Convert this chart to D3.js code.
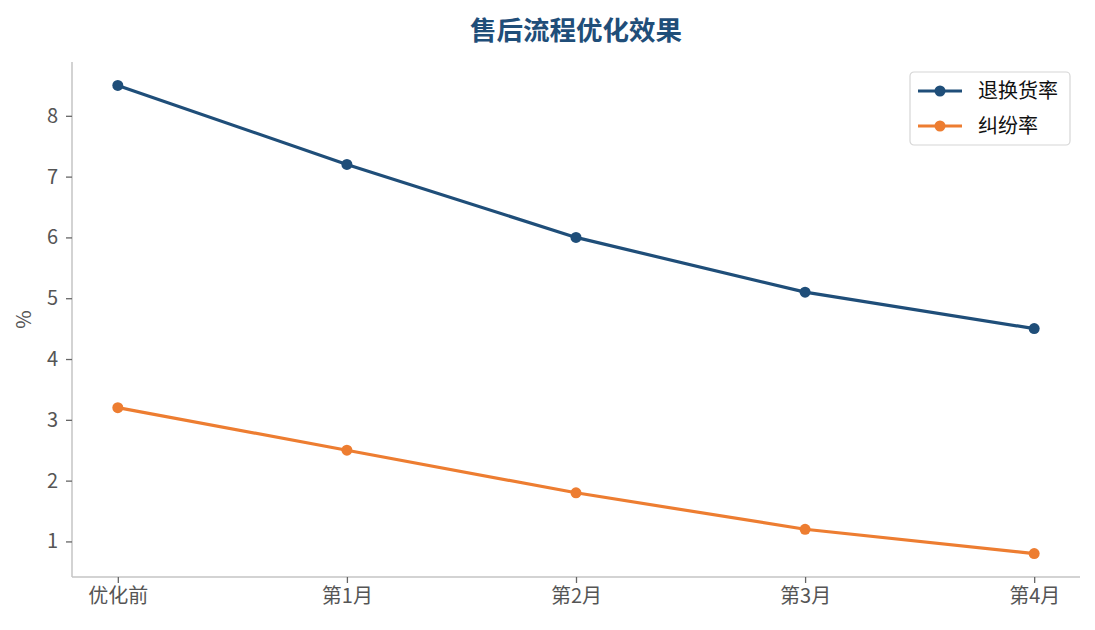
<!DOCTYPE html>
<html>
<head>
<meta charset="utf-8">
<script src="https://cdn.jsdelivr.net/npm/d3@7"></script>
<style>
  body { margin: 0; background: #fff; }
  svg { font-family: "Noto Sans CJK SC", "Noto Sans", sans-serif; }
</style>
</head>
<body>
<svg id="chart" width="1095" height="630"></svg>
<script>
const categories = ["优化前", "第1月", "第2月", "第3月", "第4月"];
const returnRate = [8.5, 7.2, 6.0, 5.1, 4.5];
const disputeRate = [3.2, 2.5, 1.8, 1.2, 0.8];
const yTicks = [1, 2, 3, 4, 5, 6, 7, 8];
const seriesNames = ["退换货率", "纠纷率"];
const colors = ["#1f4e79", "#ed7d31"];

const svg = d3.select("#chart");
const plotLeft = 72, plotRight = 1080, plotTop = 62, plotBottom = 577;

const x = d3.scaleLinear().domain([-0.2, categories.length - 1 + 0.2]).range([plotLeft, plotRight]);
const y = d3.scaleLinear().domain([0.415, 8.885]).range([plotBottom, plotTop]);

// title
svg.append("text")
  .attr("x", (plotLeft + plotRight) / 2).attr("y", 40)
  .attr("text-anchor", "middle")
  .attr("font-size", 26.5).attr("font-weight", "bold")
  .attr("fill", "#1f4e79")
  .text("售后流程优化效果");

// axes
const xAxis = svg.append("g").attr("transform", `translate(0,${plotBottom})`)
  .call(d3.axisBottom(x).tickValues(d3.range(categories.length)).tickFormat(i => categories[i]).tickSize(6).tickPadding(6));
const yAxis = svg.append("g").attr("transform", `translate(${plotLeft},0)`)
  .call(d3.axisLeft(y).tickValues(yTicks).tickSize(6).tickPadding(8));

[xAxis, yAxis].forEach(g => {
  g.select(".domain").attr("stroke", "#c4c4c4").attr("stroke-width", 1.5);
  g.selectAll(".tick line").attr("stroke", "#666").attr("stroke-width", 1.3);
  g.selectAll(".tick text").attr("fill", "#555").attr("font-size", 20)
    .attr("font-family", "'Noto Sans CJK SC', sans-serif");
});
// plain spines without end ticks
xAxis.select(".domain").attr("d", `M${plotLeft},0H${plotRight}`);
yAxis.select(".domain").attr("d", `M0,${plotBottom}V${plotTop}`);

svg.append("text")
  .attr("transform", `translate(31,${(plotTop + plotBottom) / 2}) rotate(-90)`)
  .attr("text-anchor", "middle")
  .attr("font-size", 20).attr("fill", "#555")
  .text("%");

// lines
const line = d3.line().x((d, i) => x(i)).y(d => y(d));
[returnRate, disputeRate].forEach((data, k) => {
  svg.append("path").datum(data)
    .attr("d", line).attr("fill", "none")
    .attr("stroke", colors[k]).attr("stroke-width", 3.2);
  svg.selectAll(null).data(data).enter().append("circle")
    .attr("cx", (d, i) => x(i)).attr("cy", d => y(d))
    .attr("r", 5.5).attr("fill", colors[k]);
});

// legend
const lg = svg.append("g").attr("transform", "translate(910,72)");
lg.append("rect").attr("width", 160).attr("height", 73).attr("rx", 4)
  .attr("fill", "#fff").attr("stroke", "#d6d6d6").attr("stroke-width", 1.2);
seriesNames.forEach((name, k) => {
  const yy = 19 + k * 35;
  lg.append("line").attr("x1", 8).attr("x2", 52).attr("y1", yy).attr("y2", yy)
    .attr("stroke", colors[k]).attr("stroke-width", 3.2);
  lg.append("circle").attr("cx", 30).attr("cy", yy).attr("r", 5.5).attr("fill", colors[k]);
  lg.append("text").attr("x", 68).attr("y", yy + 7)
    .attr("font-size", 20).attr("fill", "#111").text(name);
});
</script>
</body>
</html>
